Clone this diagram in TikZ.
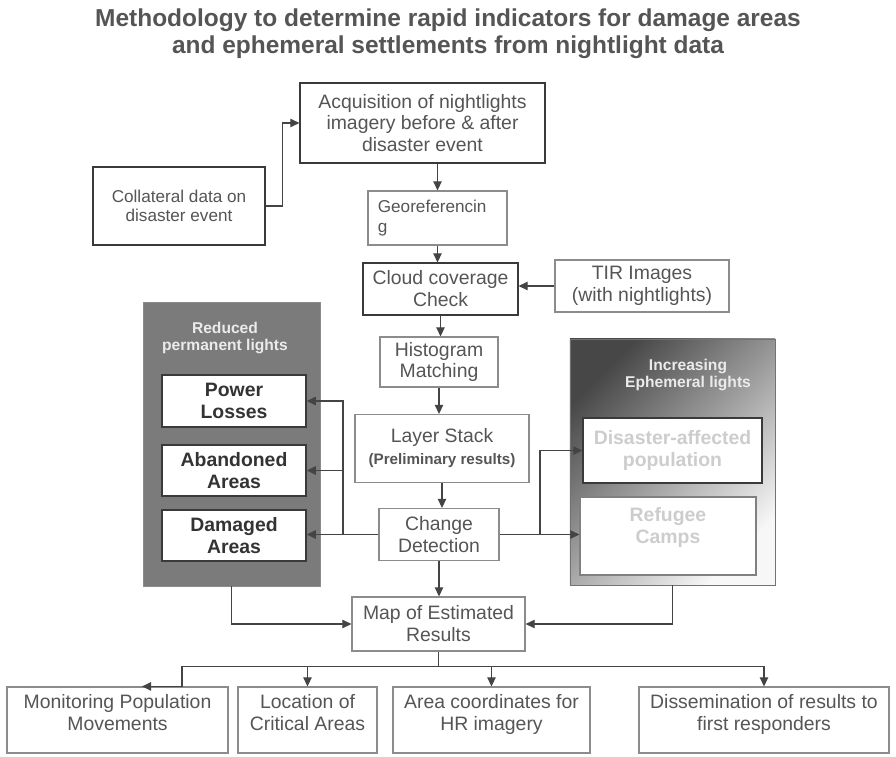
\documentclass[tikz,border=0pt]{standalone}
\usepackage{fontspec}
\setmainfont{Liberation Sans}
\usepackage{tikz}
\usetikzlibrary{arrows.meta, calc, shadings}

\definecolor{txtgray}{HTML}{555555}
\definecolor{linegray}{HTML}{444444}
\definecolor{darkedge}{HTML}{3A3A3A}
\definecolor{lightedge}{HTML}{8C8C8C}
\definecolor{panelgray}{HTML}{7B7B7B}
\definecolor{palegray}{HTML}{CDCDCD}

\newcommand{\txtbig}{\fontsize{13.8}{15.6}\selectfont}
\newcommand{\txtsmall}{\fontsize{12.2}{13.8}\selectfont}
\newcommand{\txtnote}{\fontsize{10.8}{12.5}\selectfont\bfseries}
\newcommand{\txtpanel}{\fontsize{11.1}{12.2}\selectfont\bfseries}

\tikzset{
  box/.style={draw=lightedge, line width=0.8pt, fill=white, text=txtgray, align=center, font=\txtbig, inner sep=2pt},
  darkbox/.style={box, draw=darkedge},
  outbox/.style={box, text depth=0.36cm, minimum height=1.65cm},
  lightsbox/.style={box, draw=darkedge, line width=1pt, text=black!80, font=\txtbig\bfseries},
  ghostbox/.style={box, draw=darkedge, text=palegray, font=\txtbig\bfseries},
  paneltitle/.style={text=white!92!black, align=center, font=\txtpanel, inner sep=0pt},
  arr/.style={-{Triangle[length=6.5pt,width=6pt]}, draw=linegray, line width=1pt},
  plain/.style={draw=linegray, line width=1pt}
}

\begin{document}
\begin{tikzpicture}[x=0.025cm, y=-0.025cm]
        \useasboundingbox (0,0) rectangle (896,757);

        % Title
        \node[text=txtgray, align=center, font=\fontsize{17.4}{19.2}\selectfont\bfseries] (title) at (448,33.5)
          {Methodology to determine rapid indicators for damage areas\\and ephemeral settlements from nightlight data};

        % Panels
        \node[draw=black!45, fill=panelgray, minimum width=4.425cm, minimum height=7.1cm] (lpanel) at (231.5,444) {};
        \node[paneltitle] (ltitle) at (225,338) {Reduced\\permanent lights};
        \node[draw=black!55, top color=black!72, bottom color=black!3, shading angle=45, minimum width=5.125cm, minimum height=6.15cm] (rpanel) at (672.5,462) {};
        \node[paneltitle] (rtitle) at (688,375) {Increasing\\Ephemeral lights};

        % Nodes
        \node[darkbox, minimum width=6.125cm, minimum height=2cm] (acq) at (422.5,123) {Acquisition of nightlights\\imagery before \& after\\disaster event};
        \node[darkbox, font=\txtsmall, minimum width=4.3cm, minimum height=1.95cm] (coll) at (179,206) {Collateral data on\\disaster event};
        \node[box, font=\txtsmall, align=left, inner xsep=7pt, text width=3.475cm-14pt, minimum height=1.35cm] (geo) at (437.5,218) {Georeferencin\\g};
        \node[darkbox, minimum width=3.875cm, minimum height=1.3cm] (cloud) at (440.5,289) {Cloud coverage\\Check};
        \node[box, minimum width=4.35cm, minimum height=1.3cm] (tir) at (642,286) {TIR Images\\(with nightlights)};
        \node[box, minimum width=2.95cm, minimum height=1.25cm] (hist) at (439,362) {Histogram\\Matching};
        \node[box, minimum width=4.35cm, minimum height=1.7cm] (layer) at (442,448.5) {Layer Stack\\{\txtnote (Preliminary results)}};
        \node[box, minimum width=3cm, minimum height=1.3cm] (change) at (439,534.5) {Change\\Detection};
        \node[box, minimum width=4.325cm, minimum height=1.35cm] (map) at (438.5,624) {Map of Estimated\\Results};

        \node[lightsbox, minimum width=3.6cm, minimum height=1.3cm] (power) at (234,401) {Power\\Losses};
        \node[lightsbox, minimum width=3.6cm, minimum height=1.275cm] (aband) at (234,470.5) {Abandoned\\Areas};
        \node[lightsbox, minimum width=3.6cm, minimum height=1.275cm] (dam) at (234,535.5) {Damaged\\Areas};

        \node[ghostbox, minimum width=4.475cm, minimum height=1.625cm] (dis) at (672.5,450.5) {Disaster-affected\\population};
        \node[ghostbox, draw=black!50, text depth=0.55cm, minimum width=4.4cm, minimum height=1.95cm] (ref) at (668,536) {Refugee\\Camps};

        \node[outbox, minimum width=5.525cm] (mon) at (117.5,720) {Monitoring Population\\Movements};
        \node[outbox, minimum width=3.475cm] (loc) at (307.5,720) {Location of\\Critical Areas};
        \node[outbox, minimum width=4.925cm] (area) at (491.5,720) {Area coordinates for\\HR imagery};
        \node[outbox, minimum width=6.25cm] (diss) at (764,720) {Dissemination of results to\\first responders};

        % Arrows
        \draw[arr] (coll.east) -- ++(17,0) |- (acq.west);
        \draw[arr] (geo.north |- acq.south) -- (geo.north);
        \draw[arr] (geo.south) -- (geo.south |- cloud.north);
        \draw[arr] (tir.west) -- (tir.west -| cloud.east);
        \draw[arr] (cloud.south) -- (cloud.south |- hist.north);
        \draw[arr] (hist.south) -- (hist.south |- layer.north);
        \draw[arr] (layer.south) -- (layer.south |- change.north);
        \draw[arr] (change.south) -- (change.south |- map.north);

        \coordinate (ljoin) at (343,535);
        \coordinate (rjoin) at (540,535);
        \draw[arr] (change.west) -- (change.west -| dam.east);
        \draw[arr] (ljoin) |- (power.east);
        \draw[arr] (ljoin) |- (aband.east);
        \draw[arr] (change.east) -- (change.east -| ref.west);
        \draw[arr] (rjoin) |- (dis.west);

        \draw[arr] (lpanel.south) |- (map.west);
        \draw[arr] (rpanel.south) |- (map.east);

        \coordinate (bus) at ($(map.south)+(0,15)$);
        \draw[plain] (map.south) -- (bus);
        \draw[arr] (bus) -| ($(mon.north)+(64.5,0)$) -- ($(mon.north)+(24.5,0)$);
        \draw[arr] (bus) -| (loc.north);
        \draw[arr] (bus) -| (area.north);
        \draw[arr] (bus) -| (diss.north);

    \end{tikzpicture}
\end{document}
